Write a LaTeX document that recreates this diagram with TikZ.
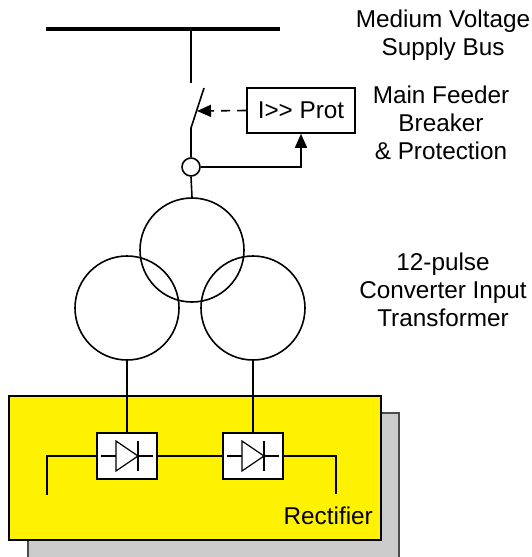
\documentclass[tikz,border=0pt]{standalone}
\usepackage{fontspec}
\setmainfont{Liberation Sans}
\usetikzlibrary{arrows.meta,positioning,patterns}

\tikzset{
  wire/.style={line width=1.6pt},
  txt/.style={font=\fontsize{24.3}{28}\selectfont, align=center, inner sep=0pt},
  coil/.style={circle, draw, line width=1.6pt, minimum size=104pt, inner sep=0pt},
  diodebox/.style={draw, fill=white, line width=1.6pt, minimum width=60pt, minimum height=46pt, inner sep=0pt},
  trip/.style={-{Triangle[length=14pt,width=12pt]}},
}

\begin{document}
\begin{tikzpicture}[x=1pt,y=-1pt]
    \useasboundingbox (0,0) rectangle (531,557);
    %rectifier block with shadow
    \draw[draw=black!70, line width=1.2pt, fill=black!20] (28,413) rectangle (399,560);
    \draw[line width=1.2pt, fill=yellow] (9,396) rectangle (381,540);
    \node[txt, anchor=base east] (rectlbl) at (373,524) {Rectifier};
    %supply bus
    \draw[line width=4pt] (46,29) -- (280,29);
    \coordinate (tap) at (191,29);
    \coordinate (swtop) at (191,83);
    \coordinate (swbot) at (191,128);
    \coordinate (blade) at (204,88);
    \coordinate (blademid) at (197,111);
    \node[txt] (buslbl) at (443,35) {Medium Voltage\\Supply Bus};
    %breaker and protection
    \node[draw, line width=1.6pt, minimum width=108pt, minimum height=45pt, inner sep=0pt,
          font=\fontsize{24.3}{28}\selectfont] (prot) at (301,110.5) {I>{}> Prot};
    \node[circle, draw, line width=1.6pt, minimum size=18pt, inner sep=0pt] (ct) at (191,167) {};
    \draw[wire] (tap) -- (swtop);
    \draw[wire] (swbot) -- (blade);
    \draw[wire] (swbot) -- (ct.north);
    \draw[wire, trip, dash pattern=on 9pt off 7pt] (prot.west) -- (blademid);
    \draw[wire, trip] (ct.east) -| (prot.south);
    \node[txt, anchor=north] (protlbl) at (441,86) {Main Feeder\\Breaker\\\& Protection};
    %transformer
    \node[coil] (prim) at (192,250) {};
    \node[coil] (secA) at (127,308) {};
    \node[coil] (secB) at (253,308) {};
    \draw[wire] (ct.south) -- (prim.north);
    \node[txt, anchor=north] (trlbl) at (443,253) {12-pulse\\Converter Input\\Transformer};
    %diode bridges
    \node[diodebox] (dA) at (127,456) {};
    \node[diodebox] (dB) at (253,456) {};
    \draw[wire] (secA.south) -- (dA.north);
    \draw[wire] (secB.south) -- (dB.north);
    \draw[wire] (dA.east) -- (dB.west);
    \coordinate (dcLtop) at (47,456);
    \coordinate (dcLend) at (47,495);
    \coordinate (dcRtop) at (336,456);
    \coordinate (dcRend) at (336,494);
    \draw[wire] (dA.west) -- (dcLtop) -- (dcLend);
    \draw[wire] (dB.east) -- (dcRtop) -- (dcRend);
    \foreach \d in {dA,dB}
        {%
            \begin{scope}[shift={(\d.center)}]
                \draw[line width=1.2pt] (-26,0) -- (-11,0) (11,0) -- (26,0);
                \draw[line width=1.2pt] (-11,-15) -- (-11,15) -- (11,0) -- cycle;
                \draw[line width=1.2pt] (11,-15) -- (11,15);
            \end{scope}
        }
\end{tikzpicture}
\end{document}
